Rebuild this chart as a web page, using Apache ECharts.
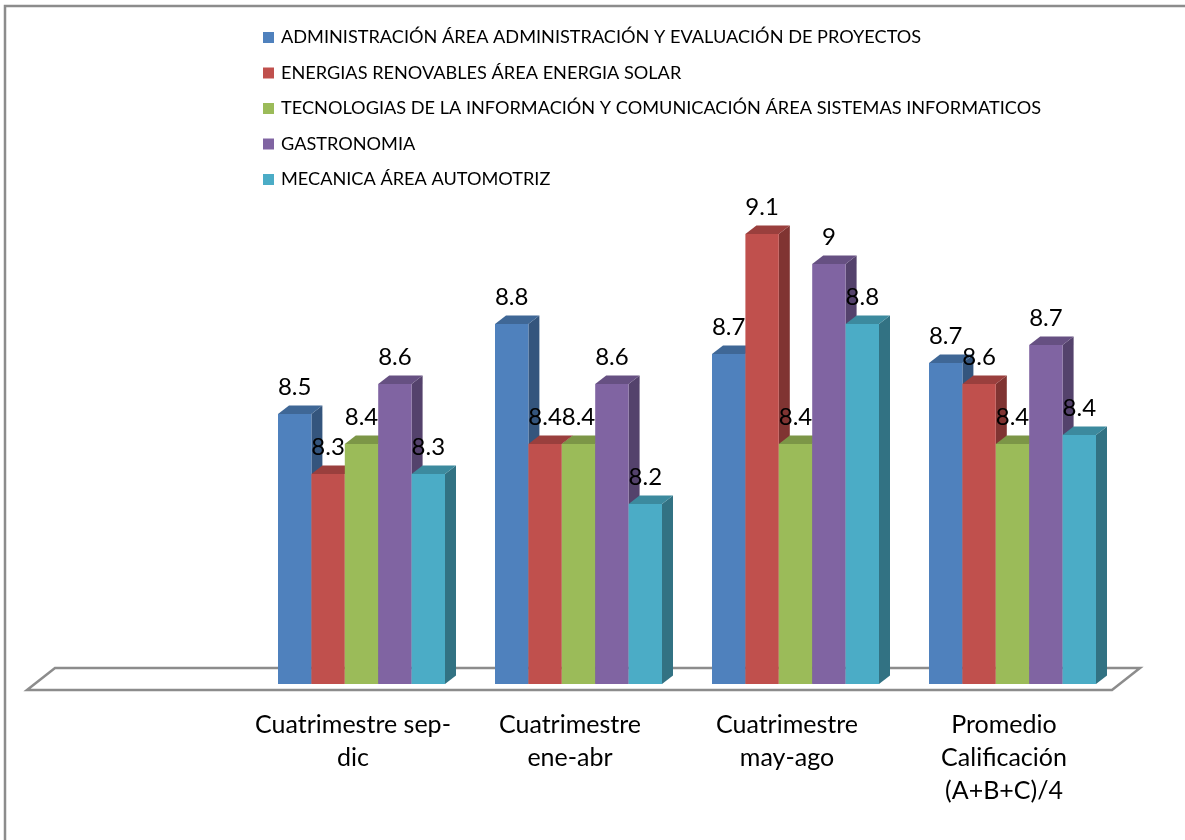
<!DOCTYPE html>
<html><head><meta charset="utf-8">
<style>html,body{margin:0;padding:0;background:#fff}#c{width:1185px;height:840px}</style>
<script src="https://cdn.jsdelivr.net/npm/echarts@6/dist/echarts.min.js"></script>
</head><body><div id="c"></div>
<script>
const categories = ['', 'Cuatrimestre sep-\ndic', 'Cuatrimestre\nene-abr', 'Cuatrimestre\nmay-ago', 'Promedio\nCalificación\n(A+B+C)/4'];
const seriesNames = [
  'ADMINISTRACIÓN ÁREA ADMINISTRACIÓN Y EVALUACIÓN DE PROYECTOS',
  'ENERGIAS RENOVABLES ÁREA ENERGIA SOLAR',
  'TECNOLOGIAS DE LA INFORMACIÓN Y COMUNICACIÓN ÁREA SISTEMAS INFORMATICOS',
  'GASTRONOMIA',
  'MECANICA ÁREA AUTOMOTRIZ'
];
const administracion = [null, 8.5, 8.8, 8.7, 8.67];
const energias = [null, 8.3, 8.4, 9.1, 8.6];
const tecnologias = [null, 8.4, 8.4, 8.4, 8.4];
const gastronomia = [null, 8.6, 8.6, 9.0, 8.73];
const mecanica = [null, 8.3, 8.2, 8.8, 8.43];
const seriesValues = [administracion, energias, tecnologias, gastronomia, mecanica];
const frontColors = ['#4f81bd', '#c0504d', '#9bbb59', '#8064a2', '#4bacc6'];
const topColors = ['#3f6796', '#9a3f3d', '#7c9647', '#665082', '#3c8a9e'];
const sideColors = ['#34557d', '#803432', '#677c3b', '#54426c', '#327283'];
const FONT = 'Lato';
const GROUP_RATIO = 167 / 217, DX = 11, DY = 8.5;

const chart = echarts.init(document.getElementById('c'), null, {renderer: 'canvas'});
const fmt = v => String(Math.round(v * 10) / 10);

const barSeries = seriesNames.map((name, i) => ({
  name, type: 'custom', z: 2, coordinateSystem: 'cartesian2d',
  itemStyle: {color: frontColors[i]},
  data: categories.map((c, k) => [k, seriesValues[i][k]]).filter(d => d[1] !== null),
  encode: {x: 0, y: 1},
  renderItem(params, api) {
    const top = api.coord([api.value(0), api.value(1)]);
    const band = api.size([1, 0])[0];
    const w = band * GROUP_RATIO / seriesNames.length;
    const base = params.coordSys.y + params.coordSys.height;
    const x0 = top[0] + (i - seriesNames.length / 2) * w, x1 = x0 + w, y = top[1];
    return {type: 'group', children: [
      {type: 'polygon', shape: {points: [[x1, y], [x1 + DX, y - DY], [x1 + DX, base - DY], [x1, base]]}, style: {fill: sideColors[i]}},
      {type: 'polygon', shape: {points: [[x0, y], [x0 + DX, y - DY], [x1 + DX, y - DY], [x1, y]]}, style: {fill: topColors[i]}},
      {type: 'rect', shape: {x: x0, y, width: w, height: base - y}, style: {fill: frontColors[i]}}
    ]};
  }
}));

const labelSeries = seriesNames.map((name, i) => ({
  name, type: 'custom', z: 5, coordinateSystem: 'cartesian2d', silent: true,
  data: categories.map((c, k) => [k, seriesValues[i][k]]).filter(d => d[1] !== null),
  encode: {x: 0, y: 1},
  renderItem(params, api) {
    const top = api.coord([api.value(0), api.value(1)]);
    const w = api.size([1, 0])[0] * GROUP_RATIO / seriesNames.length;
    return {type: 'text', style: {
      text: fmt(api.value(1)),
      x: top[0] + (i - seriesNames.length / 2 + 0.5) * w, y: top[1] - 27,
      align: 'center', verticalAlign: 'middle', fill: '#000', font: '24px ' + FONT
    }};
  }
}));

const floorSeries = {
  name: 'floor', type: 'custom', z: 1, coordinateSystem: 'cartesian2d', silent: true,
  data: [[0, 7.6]], encode: {x: 0, y: 1},
  renderItem(params) {
    const s = params.coordSys, b = s.y + s.height, l = s.x - 9, r = s.x + s.width - 9;
    return {type: 'polygon', shape: {points: [[l, b + 6], [l + 28, b - 16], [r + 28, b - 16], [r, b + 6]]},
      style: {fill: '#fff', stroke: '#8c8c8c', lineWidth: 2.5}};
  }
};

chart.setOption({
  animation: false,
  backgroundColor: '#fff',
  graphic: [{type: 'polyline', z: 0, shape: {points: [[5, 840], [5, 6], [1185, 6]]}, style: {fill: 'none', stroke: '#8c8c8c', lineWidth: 2.5}}],
  legend: {
    data: seriesNames, orient: 'vertical', left: 258, top: 22, icon: 'rect',
    itemWidth: 11, itemHeight: 11, itemGap: 14.5, selectedMode: false,
    textStyle: {fontFamily: FONT, fontSize: 18.15, color: '#000', lineHeight: 21, padding: [0, 0, 0, 2]}
  },
  grid: {left: 36, width: 1085, top: 204, height: 480, containLabel: false},
  xAxis: {
    type: 'category', data: categories, axisLine: {show: false}, axisTick: {show: false},
    axisLabel: {interval: 0, color: '#000', fontFamily: FONT, fontSize: 25, lineHeight: 33, margin: 24, verticalAlign: 'top', padding: [0, 17, 0, 0]}
  },
  yAxis: {type: 'value', min: 7.6, max: 9.2, show: false, splitLine: {show: false}},
  series: [floorSeries, ...barSeries, ...labelSeries]
});
</script></body></html>
